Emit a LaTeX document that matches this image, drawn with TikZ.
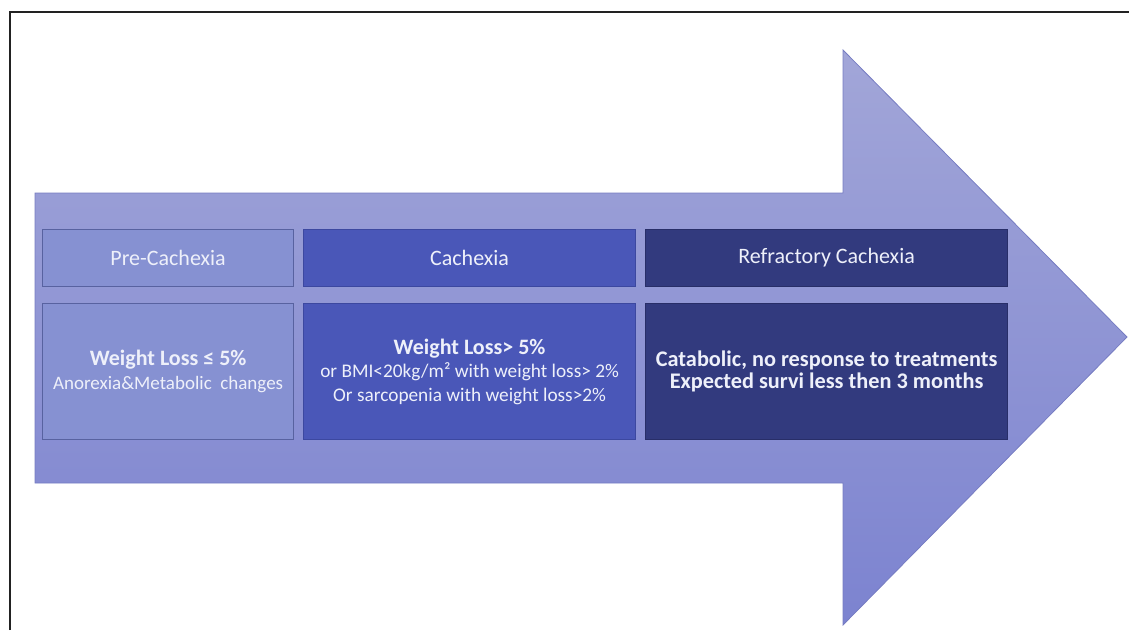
\documentclass[tikz,border=0pt]{standalone}
\usepackage{fontspec}
\setmainfont{Carlito}
\definecolor{arrowtop}{RGB}{162,166,216}
\definecolor{arrowbot}{RGB}{124,131,208}
\definecolor{arrowedge}{RGB}{118,124,194}
\definecolor{cpre}{RGB}{134,145,210}
\definecolor{cpreedge}{RGB}{88,98,160}
\definecolor{ccach}{RGB}{74,87,184}
\definecolor{ccachedge}{RGB}{60,72,160}
\definecolor{crefr}{RGB}{50,58,126}
\definecolor{crefredge}{RGB}{40,46,104}
\definecolor{txt}{RGB}{238,240,250}
\definecolor{frame}{RGB}{34,34,34}
\tikzset{
  stagebox/.style={rectangle, draw, line width=1.2pt, inner sep=0pt, align=center, text=txt, anchor=north west},
  headbox/.style={stagebox, font=\fontsize{22}{26}\selectfont},
}
\begin{document}
\begin{tikzpicture}[x=1pt,y=-1pt]
\useasboundingbox (0,0) rectangle (1129,630);
% frame (left and top edges)
\draw[frame, line width=1.5pt] (10,630) -- (10,12) -- (1129,12);
% big arrow
\shade[top color=arrowtop, bottom color=arrowbot, draw=arrowedge, line width=0.8pt]
  (35,193) -- (843,193) -- (843,50) -- (1127,337) -- (843,625) -- (843,483) -- (35,483) -- cycle;
% headers
\node[headbox, fill=cpre, draw=cpreedge, minimum width=251pt, minimum height=57pt] (pre) at (42,229) {Pre-Cachexia};
\node[headbox, fill=ccach, draw=ccachedge, minimum width=332pt, minimum height=57pt] (cach) at (303,229) {Cachexia};
\node[headbox, fill=crefr, draw=crefredge, minimum width=362pt, minimum height=57pt] (refr) at (645,229) {Refractory Cachexia};
% bodies
\node[stagebox, fill=cpre, draw=cpreedge, minimum width=251pt, minimum height=136pt,
      font=\fontsize{19}{24}\selectfont] (prebody) at (42,303)
  {{\fontsize{22}{24}\selectfont\bfseries Weight Loss ≤ 5\%}\\
   Anorexia\&Metabolic\ \ changes};
\node[stagebox, fill=ccach, draw=ccachedge, minimum width=332pt, minimum height=136pt,
      font=\fontsize{19.3}{23.5}\selectfont] (cachbody) at (303,303)
  {{\fontsize{22}{23.5}\selectfont\bfseries Weight Loss> 5\%}\\
   or BMI<20kg/m² with weight loss> 2\%\\
   Or sarcopenia with weight loss>2\%};
\node[stagebox, fill=crefr, draw=crefredge, minimum width=362pt, minimum height=136pt,
      font=\fontsize{22.3}{22.5}\selectfont\bfseries] (refrbody) at (645,303)
  {Catabolic, no response to treatments\\
   Expected survi less then 3 months};
\end{tikzpicture}
\end{document}
